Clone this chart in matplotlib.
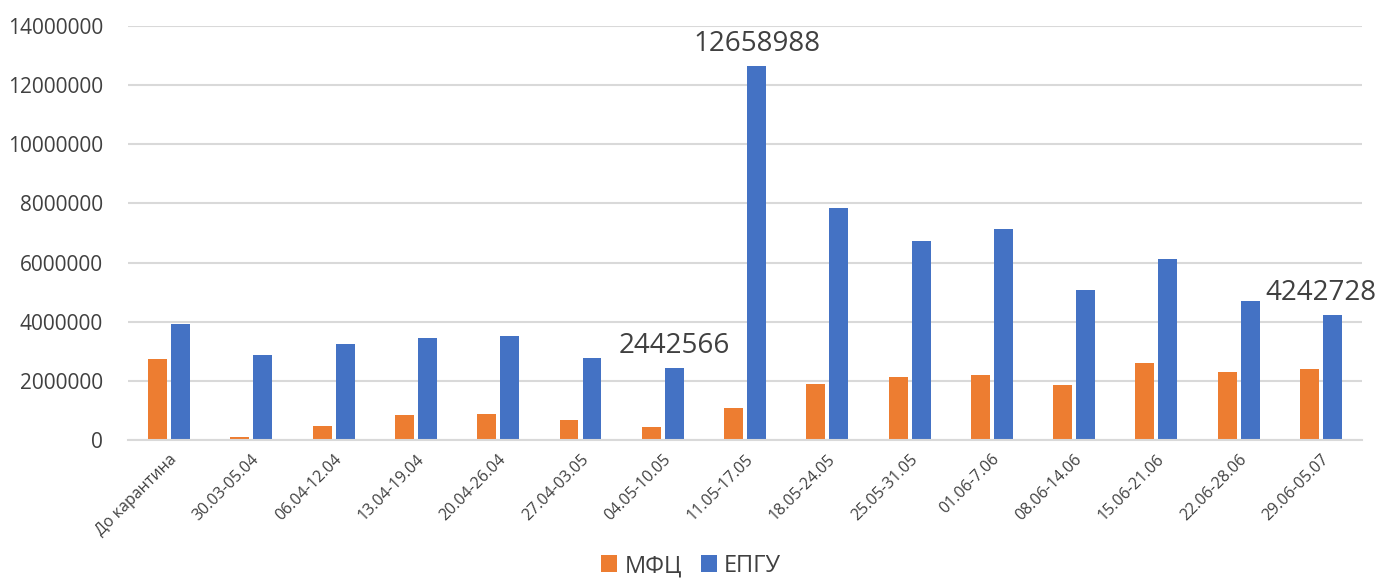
import numpy as np
import matplotlib.pyplot as plt

plt.rcParams['font.family'] = ['Open Sans', 'DejaVu Sans']

periods = ['До карантина', '30.03-05.04', '06.04-12.04', '13.04-19.04', '20.04-26.04',
           '27.04-03.05', '04.05-10.05', '11.05-17.05', '18.05-24.05', '25.05-31.05',
           '01.06-7.06', '08.06-14.06', '15.06-21.06', '22.06-28.06', '29.06-05.07']
mfc = [2740000, 100000, 470000, 850000, 880000, 680000, 440000, 1080000,
       1900000, 2130000, 2200000, 1860000, 2600000, 2300000, 2400000]
epgu = [3920000, 2870000, 3250000, 3450000, 3520000, 2770000, 2442566, 12658988,
        7850000, 6730000, 7130000, 5070000, 6120000, 4700000, 4242728]
labeled = [6, 7, 14]  # bars of ЕПГУ with value labels

text_color = '#404040'
fig = plt.figure(figsize=(13.82, 5.79), dpi=100)
ax = fig.add_axes([0.0926, 0.240, 0.893, 0.715])

x = np.arange(len(periods))
w = 0.23
ax.bar(x - w / 2 - 0.025, mfc, w, color='#ED7D31', label='МФЦ')
ax.bar(x + w / 2 + 0.025, epgu, w, color='#4472C4', label='ЕПГУ')

for i in labeled:
    xpos, ha = x[i] + w / 2 + 0.025, 'center'
    if i == len(periods) - 1:
        xpos, ha = x[i] + 0.67, 'right'  # last label pushed to the right edge
    ax.text(xpos, epgu[i] + 250000, str(epgu[i]),
            ha=ha, va='bottom', fontsize=20, color=text_color, clip_on=False)

ax.set_xlim(-0.5, len(periods) - 0.5)
ax.set_ylim(0, 14000000)
ax.set_yticks(np.arange(0, 14000001, 2000000))
ax.set_yticklabels([str(v) for v in range(0, 14000001, 2000000)], fontsize=15, color=text_color)
ax.set_xticks(x)
ax.set_xticklabels(periods, rotation=45, ha='right', rotation_mode='anchor',
                   fontsize=11.5, color=text_color)
ax.yaxis.grid(True, color='#D9D9D9', linewidth=1.5)
ax.set_axisbelow(True)
for s in ['top', 'right', 'left']:
    ax.spines[s].set_visible(False)
ax.spines['bottom'].set_color('#D9D9D9')
ax.spines['bottom'].set_linewidth(1.5)
ax.tick_params(axis='y', length=0, pad=18)
ax.tick_params(axis='x', length=0, pad=8)

fig.legend(loc='lower center', bbox_to_anchor=(0.5, -0.035), ncol=2, frameon=False,
           fontsize=17, handlelength=0.7, handleheight=0.7, handletextpad=0.3,
           columnspacing=0.8, labelcolor=text_color)

fig.savefig('out.png', dpi=100)
